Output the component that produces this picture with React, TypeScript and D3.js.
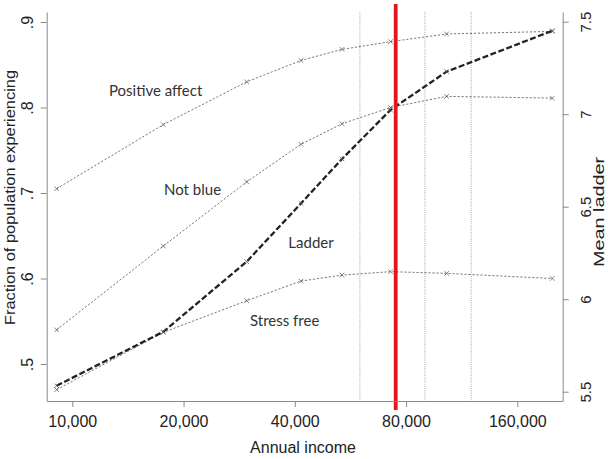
import React, { useEffect, useRef } from "react"
import * as d3 from "d3"

/** Income bins (x) and the four series */
const incomes = [9070, 17630, 29640, 41580, 53680, 72620, 103000, 199000]
const positiveAffect = [0.705, 0.78, 0.83, 0.855, 0.868, 0.877, 0.886, 0.889]
const notBlue = [0.54, 0.638, 0.713, 0.757, 0.781, 0.8, 0.813, 0.811]
const stressFree = [0.47, 0.537, 0.574, 0.597, 0.604, 0.608, 0.606, 0.6]
const ladder = [5.532, 5.824, 6.203, 6.518, 6.758, 7.023, 7.23, 7.451]

/** Ticks */
const xTicks = [10000, 20000, 40000, 80000, 160000]
const leftTicks = [0.5, 0.6, 0.7, 0.8, 0.9]
const rightTicks = [5.5, 6, 6.5, 7, 7.5]

/** Reference lines */
const gridIncomes = [60000, 90000, 120000]
const thresholdIncome = 75000

/** Series labels, anchored in data units (income, fraction) */
const labelTexts = ["Positive affect", "Not blue", "Ladder", "Stress free"]
const labelIncomes = [12570, 17710, 38420, 30260]
const labelValues = [0.8135, 0.6977, 0.6353, 0.5448]

export default function App() {
	const width = 608
	const height = 459

	/** plot frame */
	const plotLeft = 46.7
	const plotRight = 562.7
	const plotTop = 12
	const plotBottom = 401

	/** x: log income, calibrated on tick positions then stretched to frame */
	const xBase = d3.scaleLog().domain([10000, 160000]).range([72.3, 517.3])
	const xScale = d3.scaleLog()
		.domain([xBase.invert(plotLeft), xBase.invert(plotRight)])
		.range([plotLeft, plotRight])

	const yBase = d3.scaleLinear().domain([0.5, 0.9]).range([364, 22])
	const yLeft = d3.scaleLinear()
		.domain([yBase.invert(plotBottom), yBase.invert(plotTop)])
		.range([plotBottom, plotTop])

	const yBaseR = d3.scaleLinear().domain([5.5, 7.5]).range([391.7, 21.7])
	const yRight = d3.scaleLinear()
		.domain([yBaseR.invert(plotBottom), yBaseR.invert(plotTop)])
		.range([plotBottom, plotTop])

	const dotted = [positiveAffect, notBlue, stressFree]
	const lineLeft = d3.line<number>()
		.x((_, i) => xScale(incomes[i]))
		.y(d => yLeft(d))
	const lineRight = d3.line<number>()
		.x((_, i) => xScale(incomes[i]))
		.y(d => yRight(d))

	const xAxisRef = useRef<SVGGElement>(null)
	const leftAxisRef = useRef<SVGGElement>(null)
	const rightAxisRef = useRef<SVGGElement>(null)

	useEffect(() => {
		const axisColor = "#8a8a8a"
		const font = "'Liberation Sans', Arial, sans-serif"

		const xg = d3.select(xAxisRef.current)
		xg.call(
			d3.axisBottom(xScale)
				.tickValues(xTicks)
				.tickFormat(d => d3.format(",")(d as number))
				.tickSize(6)
				.tickSizeOuter(0)
				.tickPadding(9)
		)
		xg.selectAll("path,line").attr("stroke", axisColor)
		xg.selectAll("text")
			.attr("fill", "#222")
			.style("font-family", font)
			.style("font-size", "16px")

		const lg = d3.select(leftAxisRef.current)
		lg.call(
			d3.axisLeft(yLeft)
				.tickValues(leftTicks)
				.tickFormat(d => d3.format(".1f")(d as number).replace(/^0/, ""))
				.tickSize(6)
				.tickSizeOuter(0)
		)
		lg.selectAll("path,line").attr("stroke", axisColor)
		lg.selectAll("text")
			.attr("transform", "rotate(-90)")
			.attr("x", 0)
			.attr("y", -13.7)
			.attr("dy", 0)
			.attr("text-anchor", "middle")
			.attr("fill", "#222")
			.style("font-family", font)
			.style("font-size", "16px")

		const rg = d3.select(rightAxisRef.current)
		rg.call(
			d3.axisRight(yRight)
				.tickValues(rightTicks)
				.tickFormat(d => String(d))
				.tickSize(6)
				.tickSizeOuter(0)
		)
		rg.selectAll("path,line").attr("stroke", axisColor)
		rg.selectAll("text")
			.attr("transform", "rotate(-90)")
			.attr("x", 0)
			.attr("y", 28)
			.attr("dy", 0)
			.attr("text-anchor", "middle")
			.attr("fill", "#222")
			.style("font-family", font)
			.style("font-size", "15px")
	}, [])

	const cross = (cx: number, cy: number, key: string) => (
		<path
			key={key}
			d={`M${cx - 2.3},${cy - 2.3}L${cx + 2.3},${cy + 2.3}M${cx - 2.3},${cy + 2.3}L${cx + 2.3},${cy - 2.3}`}
			stroke="#555"
			strokeWidth={0.7}
			fill="none"
		/>
	)

	return (
		<svg
			width={width}
			height={height}
			style={{ position: "absolute", left: 0, top: 0, background: "#fff" }}
		>
			<rect width={width} height={height} fill="#fff" />

			{/** vertical reference lines */}
			{gridIncomes.map(g => (
				<line
					key={g}
					x1={xScale(g)}
					x2={xScale(g)}
					y1={plotTop}
					y2={plotBottom}
					stroke="#9a9a9a"
					strokeWidth={0.9}
					strokeDasharray="1,1.2"
				/>
			))}

			{/** dotted fraction series */}
			{dotted.map((s, k) => (
				<g key={k}>
					<path d={lineLeft(s) || ""} fill="none" stroke="#555" strokeWidth={0.8} strokeDasharray="2.2,1.8" />
					{s.map((v, i) => cross(xScale(incomes[i]), yLeft(v), `${k}-${i}`))}
				</g>
			))}

			{/** ladder on right axis */}
			<path d={lineRight(ladder) || ""} fill="none" stroke="#222" strokeWidth={2.3} strokeDasharray="6,2.5" />
			{ladder.map((v, i) => cross(xScale(incomes[i]), yRight(v), `l-${i}`))}

			{/** $75,000 threshold */}
			<line
				x1={xScale(thresholdIncome)}
				x2={xScale(thresholdIncome)}
				y1={4}
				y2={410}
				stroke="#e8141b"
				strokeWidth={3.8}
			/>

			{/** series labels */}
			{labelTexts.map((t, i) => (
				<text
					key={t}
					x={xScale(labelIncomes[i])}
					y={yLeft(labelValues[i])}
					fill="#333"
					style={{ fontFamily: "Lato, 'Open Sans', sans-serif", fontSize: "15px" }}
				>
					{t}
				</text>
			))}

			<g ref={xAxisRef} transform={`translate(0, ${plotBottom})`} />
			<g ref={leftAxisRef} transform={`translate(${plotLeft}, 0)`} />
			<g ref={rightAxisRef} transform={`translate(${plotRight}, 0)`} />

			{/** axis titles */}
			<text
				x={303}
				y={453.3}
				textAnchor="middle"
				fill="#222"
				style={{ fontFamily: "'Liberation Sans', Arial, sans-serif", fontSize: "16px" }}
			>
				Annual income
			</text>
			<text
				transform={`translate(14.5, 197.5) rotate(-90)`}
				textAnchor="middle"
				fill="#222"
				textLength={255}
				lengthAdjust="spacingAndGlyphs"
				style={{ fontFamily: "'Liberation Sans', Arial, sans-serif", fontSize: "15px" }}
			>
				Fraction of population experiencing
			</text>
			<text
				transform={`translate(604, 212) rotate(-90)`}
				textAnchor="middle"
				fill="#222"
				textLength={110}
				lengthAdjust="spacingAndGlyphs"
				style={{ fontFamily: "'Liberation Sans', Arial, sans-serif", fontSize: "14px" }}
			>
				Mean ladder
			</text>
		</svg>
	)
}
